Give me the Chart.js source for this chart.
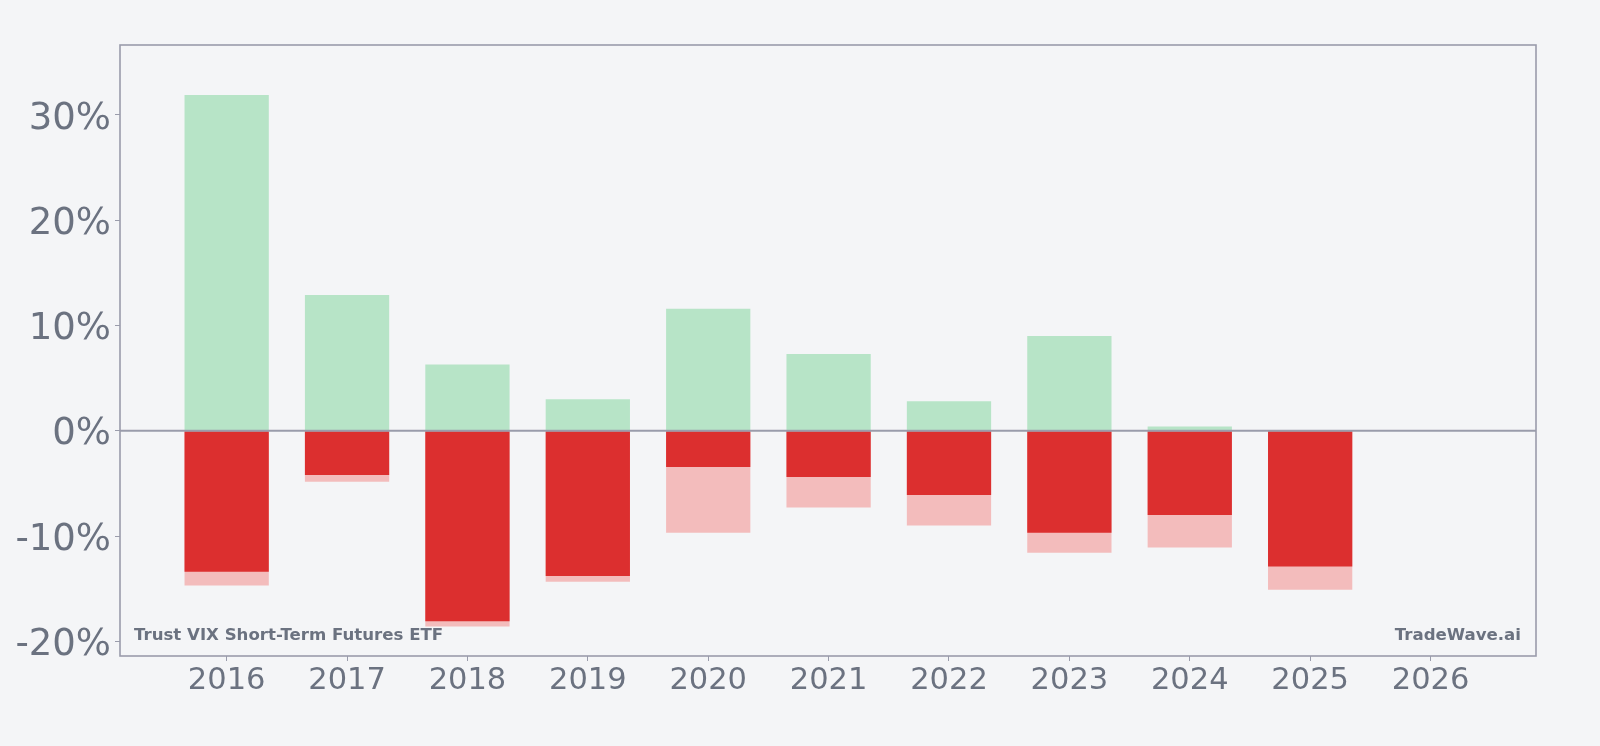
<!DOCTYPE html>
<html>
<head>
<meta charset="utf-8">
<script src="https://cdn.jsdelivr.net/npm/chart.js@4/dist/chart.umd.min.js"></script>
<style>
  html, body { margin: 0; padding: 0; background: #f4f5f7; }
  #wrap { width: 1600px; height: 746px; }
</style>
</head>
<body>
<div id="wrap"><canvas id="c" width="1600" height="746"></canvas></div>
<script>
// ---- data (percent) ----
const years      = [2016, 2017, 2018, 2019, 2020, 2021, 2022, 2023, 2024, 2025, 2026];
const maxGain    = [31.9, 12.9, 6.3, 3.0, 11.6, 7.3, 2.8, 9.0, 0.4, 0.0, null];
const yearReturn = [-13.4, -4.2, -18.1, -13.8, -3.45, -4.4, -6.1, -9.7, -8.0, -12.9, null];
const maxDrawdown= [-14.7, -4.85, -18.6, -14.35, -9.7, -7.3, -9.0, -11.6, -11.1, -15.1, null];
const yTicks     = [-20, -10, 0, 10, 20, 30];
const titleText  = 'Trust VIX Short-Term Futures ETF';
const brandText  = 'TradeWave.ai';

const TEXT = '#6b7280';
const FRAME = '#9a9cab';

const toPts = arr => years.map((y, i) => ({x: y, y: arr[i]}));

const framePlugin = {
  id: 'frame',
  beforeDraw(chart) {
    const ctx = chart.ctx;
    ctx.save();
    ctx.fillStyle = '#f4f5f7';
    ctx.fillRect(0, 0, chart.width, chart.height);
    ctx.restore();
  },
  afterDatasetsDraw(chart) {
    const {ctx, chartArea: a, scales} = chart;
    ctx.save();
    const y0 = scales.y.getPixelForValue(0);
    ctx.strokeStyle = FRAME;
    ctx.lineWidth = 1.8;
    ctx.beginPath();
    ctx.moveTo(a.left, y0);
    ctx.lineTo(a.right, y0);
    ctx.stroke();
    ctx.lineWidth = 1.6;
    ctx.strokeRect(a.left, a.top, a.right - a.left, a.bottom - a.top);
    ctx.fillStyle = TEXT;
    ctx.font = 'bold 16.6px "DejaVu Sans"';
    ctx.textBaseline = 'alphabetic';
    ctx.textAlign = 'left';
    ctx.fillText(titleText, a.left + 14, a.bottom - 16);
    ctx.textAlign = 'right';
    ctx.fillText(brandText, a.right - 15, a.bottom - 16);
    ctx.restore();
  }
};

new Chart(document.getElementById('c'), {
  type: 'bar',
  data: {
    datasets: [
      { label: 'Year return', data: toPts(yearReturn), backgroundColor: '#dc2f2f' },
      { label: 'Max drawdown', data: toPts(maxDrawdown), backgroundColor: '#f3bcbc' },
      { label: 'Max gain', data: toPts(maxGain), backgroundColor: '#b7e4c7' }
    ]
  },
  options: {
    responsive: false,
    animation: false,
    grouped: false,
    categoryPercentage: 0.7,
    barPercentage: 1.0,
    layout: { padding: { left: 0, right: 64, top: 45, bottom: 0 } },
    plugins: { legend: { display: false }, tooltip: { enabled: false } },
    scales: {
      x: {
        type: 'linear',
        min: 2015.114,
        max: 2026.876,
        offset: false,
        border: { display: false },
        grid: { offset: false, drawOnChartArea: false, drawTicks: true, tickLength: 5, color: FRAME, lineWidth: 1 },
        afterBuildTicks(scale) { scale.ticks = years.map(v => ({value: v})); },
        ticks: {
          autoSkip: false,
          maxRotation: 0,
          padding: 2,
          color: TEXT,
          font: { family: '"DejaVu Sans"', size: 30.5 },
          callback: v => String(v)
        },
        afterFit(scale) { scale.height = 90; }
      },
      y: {
        min: -21.4,
        max: 36.65,
        border: { display: false },
        grid: { drawOnChartArea: false, drawTicks: true, tickLength: 5, color: FRAME, lineWidth: 1 },
        afterBuildTicks(scale) { scale.ticks = yTicks.map(v => ({value: v})); },
        ticks: {
          padding: 4,
          labelOffset: 4,
          color: TEXT,
          font: { family: '"DejaVu Sans"', size: 37 },
          callback: v => v + '%'
        },
        afterFit(scale) { scale.width = 120; }
      }
    }
  },
  plugins: [framePlugin]
});
</script>
</body>
</html>
